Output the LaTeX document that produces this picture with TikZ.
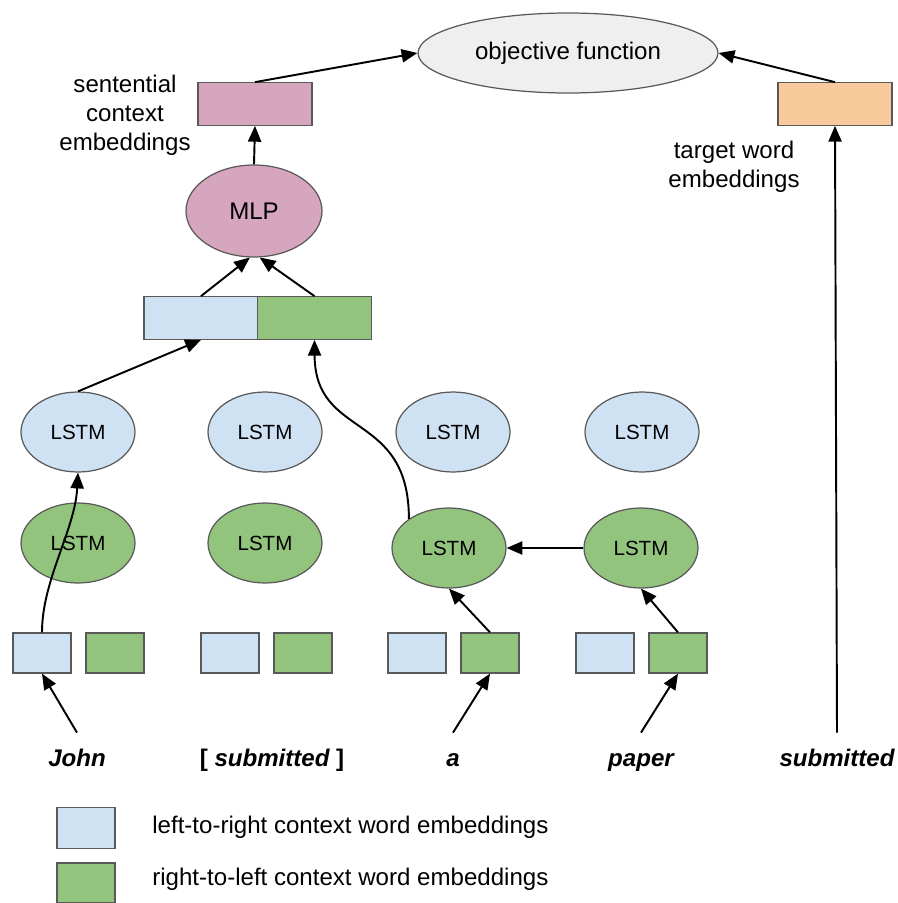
\documentclass[tikz,border=0pt]{standalone}
\usepackage{fontspec}
\setmainfont{Liberation Sans}
\usetikzlibrary{shapes.geometric,arrows.meta}
\definecolor{ltrblue}{HTML}{CFE2F3}
\definecolor{rtlgreen}{HTML}{93C47D}
\definecolor{mlppink}{HTML}{D5A6BD}
\definecolor{tgtorange}{HTML}{F9CB9C}
\definecolor{objgray}{HTML}{EFEFEF}
\definecolor{edgegray}{HTML}{595959}

\begin{document}
\begin{tikzpicture}[x=0.02cm,y=-0.02cm,
    font=\fontsize{13.7}{16.5}\selectfont,
    box/.style={draw=edgegray,line width=0.7pt,rectangle,inner sep=0pt},
    emb/.style={box,minimum width=1.16cm,minimum height=0.8cm},
    wide/.style={box,minimum width=2.28cm,minimum height=0.85cm},
    cell/.style={draw=edgegray,line width=0.7pt,ellipse,inner sep=0pt,
        minimum width=2.28cm,minimum height=1.6cm,font=\fontsize{11.7}{14}\selectfont},
    word/.style={anchor=base,font=\fontsize{13.7}{16.5}\selectfont\bfseries\itshape,
        inner sep=0pt,text height=10pt,text depth=3pt,outer sep=9pt},
    arr/.style={line width=1.1pt,-{Triangle[length=9pt,width=7.5pt]}}]
    \useasboundingbox (0,0) rectangle (897,903);

    % top
    \node[draw=edgegray,line width=0.7pt,ellipse,fill=objgray,minimum width=6cm,minimum height=1.6cm] (obj) at (568,53) {objective function};
    \node[wide,fill=mlppink] (sent) at (255,104) {};
    \node[wide,fill=tgtorange] (tgt) at (835,104) {};
    \node[align=center] (sentlab) at (125,115) {sentential\\context\\embeddings};
    \node[align=center] (tgtlab) at (734,167) {target word\\embeddings};
    \node[cell,fill=mlppink,minimum width=2.72cm,minimum height=1.84cm,font=\fontsize{13.7}{16.5}\selectfont] (mlp) at (254,211) {MLP};
    \node[wide,fill=ltrblue] (ltr) at (201,318) {};
    \node[wide,fill=rtlgreen] (rtl) at (314.5,318) {};

    % LSTM layers
    \node[cell,fill=ltrblue] (l1) at (78,432) {LSTM};
    \node[cell,fill=ltrblue] (l2) at (265,432) {LSTM};
    \node[cell,fill=ltrblue] (l3) at (453,432) {LSTM};
    \node[cell,fill=ltrblue] (l4) at (642,432) {LSTM};
    \node[cell,fill=rtlgreen] (r1) at (78,543) {LSTM};
    \node[cell,fill=rtlgreen] (r2) at (265,543) {LSTM};
    \node[cell,fill=rtlgreen] (r3) at (449,548) {LSTM};
    \node[cell,fill=rtlgreen] (r4) at (641,548) {LSTM};

    % word embeddings
    \node[emb,fill=ltrblue] (e1) at (42,653) {};
    \node[emb,fill=rtlgreen] (f1) at (115,653) {};
    \node[emb,fill=ltrblue] (e2) at (230,653) {};
    \node[emb,fill=rtlgreen] (f2) at (303,653) {};
    \node[emb,fill=ltrblue] (e3) at (417,653) {};
    \node[emb,fill=rtlgreen] (f3) at (490,653) {};
    \node[emb,fill=ltrblue] (e4) at (605,653) {};
    \node[emb,fill=rtlgreen] (f4) at (678,653) {};

    \node[word] (w1) at (77,766) {John};
    \node[word] (w2) at (272,766) {{\upshape[} submitted {\upshape]}};
    \node[word] (w3) at (453,766) {a};
    \node[word] (w4) at (641,766) {paper};
    \node[word] (w5) at (837,766) {submitted};

    % legend
    \node[emb,fill=ltrblue,minimum height=0.82cm] (k1) at (86,828) {};
    \node[emb,fill=rtlgreen] (k2) at (86,883) {};
    \node[anchor=west,inner sep=0pt] (k1lab) at (152,827) {left-to-right context word embeddings};
    \node[anchor=west,inner sep=0pt] (k2lab) at (152,879) {right-to-left context word embeddings};

    % arrows
    \draw[arr] (sent.north) -- (obj.west);
    \draw[arr] (tgt.north) -- (obj.east);
    \draw[arr] (mlp.north) -- (sent.south);
    \draw[arr] (ltr.north) -- (mlp.-95);
    \draw[arr] (rtl.north) -- (mlp.-83);
    \draw[arr] (l1.north) -- (ltr.south);
    \draw[arr] (r3.144) .. controls (409,410) and (315,440) .. (rtl.south);
    \draw[arr] (e1.north) .. controls (42,580) and (75,530) .. (l1.south);
    \draw[arr] (r4.west) -- (r3.east);
    \draw[arr] (f3.north) -- (r3.south);
    \draw[arr] (f4.north) -- (r4.south);
    \draw[arr] (w1.north) -- (e1.south);
    \draw[arr] (w3.north) -- (f3.south);
    \draw[arr] (w4.north) -- (f4.south);
    \draw[arr] (w5.north) -- (tgt.south);

\end{tikzpicture}
\end{document}
